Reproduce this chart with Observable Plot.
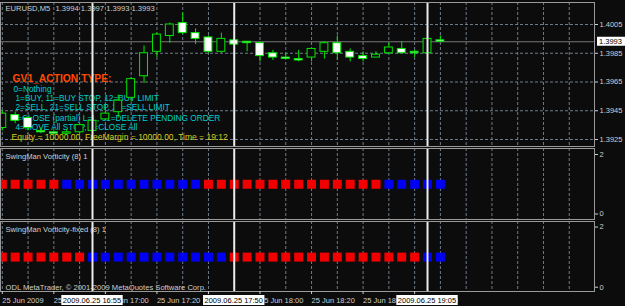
<!DOCTYPE html>
<html><head><meta charset="utf-8">
<script src="https://cdn.jsdelivr.net/npm/d3@7"></script>
<script src="https://cdn.jsdelivr.net/npm/@observablehq/plot@0.6"></script>
<style>
html,body{margin:0;padding:0;background:#0c0c0c;}
#chart{position:relative;width:625px;height:306px;background:#0c0c0c;overflow:hidden;}
#chart svg{position:absolute;left:0;}
</style></head><body><div id="chart"></div>
<script>
// ---- data ----
const times = ["16:20","16:25","16:30","16:35","16:40","16:45","16:50","16:55","17:00","17:05",
  "17:10","17:15","17:20","17:25","17:30","17:35","17:40","17:45","17:50","17:55",
  "18:00","18:05","18:10","18:15","18:20","18:25","18:30","18:35","18:40","18:45",
  "18:50","18:55","19:00","19:05","19:10"];
const open  = [1.3933,1.3942,1.3940,1.3931,1.3930,1.3929,1.3930,1.3931,1.3939,1.3944,
  1.3954,1.3969,1.3986,1.3997,1.4006,1.3999,1.3996,1.3986,1.3994,1.3993,
  1.3992,1.3985,1.3982,1.3981,1.3982,1.3986,1.3992,1.3986,1.3983,1.3982,
  1.3985,1.3988,1.3986,1.3985,1.3994];
const high  = [1.3945,1.3944,1.3941,1.3933,1.3931,1.3932,1.3936,1.3940,1.3949,1.3956,
  1.3968,1.3990,1.3999,1.4006,1.4013,1.4002,1.3997,1.3999,1.3995,1.3993,
  1.3993,1.3987,1.3985,1.3987,1.3988,1.3993,1.3997,1.3988,1.3986,1.3986,
  1.3992,1.3993,1.3987,1.3995,1.3997];
const low   = [1.3931,1.3936,1.3931,1.3929,1.3928,1.3928,1.3929,1.3930,1.3938,1.3940,
  1.3951,1.3964,1.3982,1.3992,1.3998,1.3991,1.3985,1.3985,1.3990,1.3986,
  1.3979,1.3980,1.3981,1.3979,1.3979,1.3981,1.3980,1.3979,1.3979,1.3982,
  1.3984,1.3985,1.3982,1.3985,1.3993];
const close = [1.3943,1.3938,1.3933,1.3930,1.3929,1.3930,1.3935,1.3938,1.3943,1.3952,
  1.3967,1.3985,1.3998,1.4005,1.3999,1.3995,1.3986,1.3995,1.3991,1.3992,
  1.3983,1.3982,1.3981,1.3980,1.3988,1.3992,1.3985,1.3982,1.3981,1.3984,
  1.3989,1.3985,1.3985,1.3995,1.3993];
// 1 = red, -1 = blue
const vorticity = [1,1,1,1,1,-1,-1,-1,-1,-1,-1,-1,-1,-1,-1,-1,1,1,1,1,
  1,1,1,1,1,1,1,1,1,1,-1,-1,-1,-1,-1];
const vorticityFixed = [1,1,1,1,1,1,1,-1,-1,-1,-1,-1,-1,-1,-1,-1,-1,-1,1,1,
  1,1,1,1,1,1,1,1,1,1,1,1,1,-1,-1];
const priceTicks = [1.4005,1.3985,1.3965,1.3945,1.3925];
const bid = 1.3993;
const indicatorTicks = [0,2];
const markedBars = ["16:55","17:50","19:05"];
const markedLabels = ["2009.06.25 16:55","2009.06.25 17:50","2009.06.25 19:05"];
const tickBars = ["16:20","16:40","17:00","17:20","17:40","18:00","18:20","18:40","19:00"];
const tickLabels = ["25 Jun 2009","25 Jun 16:40","25 Jun 17:00","25 Jun 17:20","25 Jun 17:40",
  "25 Jun 18:00","25 Jun 18:20","25 Jun 18:40","25 Jun 19:00"];
const actionTitle = "GV1_ACTION TYPE:";
const actionLines = ["0=Nothing","1=BUY, 11=BUY STOP, 12=BUY LIMIT","2=SELL, 21=SELL STOP, 22=SELL LIMIT",
  "3=CLOSE (partial) L=L, 31=DELETE PENDING ORDER","4=MOVE All STOP, 5=CLOSE All"];
const equityLine = "Equity = 10000.00, FreeMargin = 10000.00, Time = 19:12";

// ---- build ----
const candles = times.map((t,i)=>({i, t, open:open[i], high:high[i], low:low[i], close:close[i]}));
const ind1 = times.map((t,i)=>({i, v:vorticity[i]}));
const ind2 = times.map((t,i)=>({i, v:vorticityFixed[i]}));
const idx = t => times.indexOf(t);
const gridBars = d3.range(0, 45, 2);
const markedIdx = markedBars.map(idx);

const BG = "#0c0c0c", LIME = "#00e600", GRID = "#6e7c8a", FRAME = "#9a9a9a", TXT = "#cfcfcf";
const FONT = "Liberation Sans, Arial, sans-serif";
const X = {domain:[0, times.length-1], range:[1.8, 439.9]};
const common = {width:625, marginLeft:0, marginRight:31,
  style:{background:"transparent", color:TXT, fontFamily:FONT, fontSize:"7.5px", overflow:"visible"}};
const f4 = d => d.toFixed(4);
const grid = () => Plot.ruleX(gridBars, {stroke:GRID, strokeDasharray:"3,2"});
const vlines = () => Plot.ruleX(markedIdx, {stroke:"#ececec", strokeWidth:2});
const txt = (s, dx, dy, o={}) => Plot.text([s], {text:d=>d, frameAnchor:"top-left", dx, dy,
  textAnchor:"start", lineAnchor:"bottom", fill:TXT, fontSize:7.6, ...o});

const chart = document.getElementById("chart");

// Panel 1: price
const p1 = Plot.plot({...common, height:147, marginTop:2, marginBottom:1,
  x:{...X, axis:null},
  y:{domain:[1.3925,1.4005], range:[139,24]},
  marks:[
    grid(),
    Plot.ruleY(priceTicks, {stroke:GRID, strokeDasharray:"3,2"}),
    Plot.ruleY([bid], {stroke:"#767676"}),
    txt("EURUSD,M5", 5, 8),
    txt(`${f4(open.at(-1))} ${f4(high.at(-1))} ${f4(low.at(-1))} ${f4(close.at(-1))}`, 55, 8),
    txt(actionTitle, 12, 79, {fill:"#ff4a00", fontWeight:"bold", fontSize:10.3}),
    txt(actionLines[0], 13, 89, {fill:"#00ced1", fontSize:8.3}),
    txt(actionLines[1], 15, 98, {fill:"#00ced1", fontSize:8.3}),
    txt(actionLines[2], 15, 107.5, {fill:"#00ced1", fontSize:8.3}),
    txt(actionLines[3], 12, 118, {fill:"#00ced1", fontSize:8.3}),
    txt(actionLines[4], 15, 127.5, {fill:"#00ced1", fontSize:8.3}),
    txt(equityLine, 11, 137.5, {fill:"#d6cc1e", fontSize:8.5}),
    Plot.ruleX(candles, {x:"i", y1:"low", y2:"high", stroke:LIME}),
    Plot.rect(candles, {x1:d=>d.i-0.5, x2:d=>d.i+0.5, insetLeft:2.5, insetRight:2.5,
      y1:"open", y2:"close", fill:d=>d.close>=d.open?BG:"white", stroke:LIME}),
    vlines(),
    Plot.axisY(priceTicks, {anchor:"right", tickFormat:f4, tickSize:3, tickPadding:2,
      fontSize:7.5, fill:TXT, stroke:TXT, label:null}),
    Plot.frame({stroke:FRAME})
  ]});
p1.style.top = "0px";
chart.appendChild(p1);

function indicatorPanel(data, label, top, height, mb, yr, withAxis){
  const marks = [
    grid(),
    txt(label, 5, 10.5),
    Plot.dot(data, {x:"i", y:d=>Math.abs(d.v), symbol:"square", r:5.08,
      fill:d=>d.v>0?"#f20000":"#0000f2", stroke:"none"}),
    vlines(),
    Plot.axisY(indicatorTicks, {anchor:"right", tickSize:3, tickPadding:2, fontSize:7.5,
      fill:TXT, stroke:TXT, label:null}),
    Plot.frame({stroke:FRAME})
  ];
  if (withAxis) {
    marks.splice(2, 0, txt("ODL MetaTrader, \u00a9 2001-2009 MetaQuotes Software Corp.", 5, 68));
    marks.push(Plot.axisX(tickBars.map(idx), {anchor:"bottom", tickFormat:d=>tickLabels[tickBars.map(idx).indexOf(d)],
      textAnchor:"start", tickSize:3, tickPadding:3, fontSize:7.5, fill:TXT, stroke:TXT, label:null}));
  }
  const p = Plot.plot({...common, height, marginTop:1, marginBottom:mb,
    x:{...X, ...(withAxis?{}:{axis:null})},
    y:{domain:[0,2], range:yr},
    marks});
  p.style.top = top + "px";
  chart.appendChild(p);
  return p;
}
const p2 = indicatorPanel(ind1, "SwingMan Vorticity (8) 1", 147, 73, 1, [66.5,7], false);
const p3 = indicatorPanel(ind2, "SwingMan Vorticity-fixed (8) 1", 220, 86, 15, [66.7,6.5], true);

// bid label box on price axis
{
  const yb = p1.scale("y").apply(bid);
  const x0 = 625 - 31 + 3;
  const g = d3.select(p1).append("g").attr("font-family", FONT).attr("font-size", 7.5).attr("text-anchor","start");
  g.append("rect").attr("x", x0).attr("y", yb-4.5).attr("width", 625-x0).attr("height", 9).attr("fill","white");
  g.append("text").attr("x", x0+2).attr("y", yb).attr("dy","0.35em").attr("text-anchor","start").attr("fill","black").text(f4(bid));
}
// marked time labels on time axis
{
  const xs = p3.scale("x");
  const g = d3.select(p3).append("g").attr("font-family", FONT).attr("font-size", 7.5);
  markedBars.forEach((t,k)=>{
    const cx = xs.apply(idx(t));
    const gg = g.append("g");
    const r = gg.append("rect").attr("fill","white");
    const tx = gg.append("text").attr("x", cx).attr("y", 83).attr("text-anchor","middle").attr("fill","black").text(markedLabels[k]);
    const bb = tx.node().getBBox();
    r.attr("x", bb.x-1.5).attr("y", 75).attr("width", bb.width+3).attr("height", 10);
  });
}
</script></body></html>
